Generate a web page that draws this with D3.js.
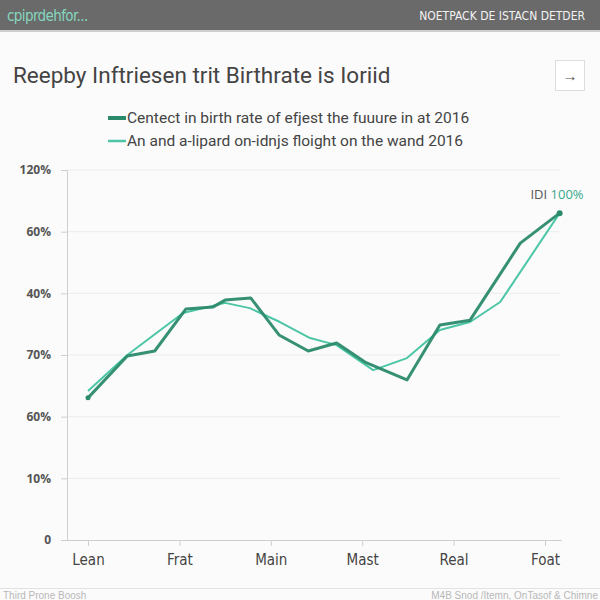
<!DOCTYPE html>
<html><head><meta charset="utf-8">
<script src="https://cdn.jsdelivr.net/npm/d3@7"></script>
<style>
html,body{margin:0;padding:0;background:#fbfbfb;}
svg{display:block;font-family:"Liberation Sans","Open Sans",Arial,sans-serif;}
</style></head>
<body>
<svg id="c" width="600" height="600"></svg>
<script>
// Categories (x axis) and tick labels
const categories = ["Lean","Frat","Main","Mast","Real","Foat"];
const yTickValues = [0,20,40,60,80,100,120];
const yTickLabels = ["0","10%","60%","70%","40%","60%","120%"];

// Series: x is fractional category position, y in axis units
const darkX = [0,0.43,0.73,1.07,1.37,1.50,1.78,2.09,2.41,2.72,3.03,3.49,3.85,4.18,4.73,5.16];
const darkY = [46.1,59.7,61.3,74.9,75.6,77.8,78.5,66.5,61.3,63.9,57.7,51.9,69.7,71.3,96.3,106.0];
const lightX = [0,0.43,1.04,1.50,1.77,2.10,2.43,2.72,3.12,3.49,3.85,4.18,4.51,5.16];
const lightY = [48.3,60.0,73.6,76.9,75.2,70.7,65.5,63.2,55.1,59.0,68.1,70.7,77.2,106.0];

const seriesNames = ["Centect in birth rate of efjest the fuuure in at 2016","An and a-lipard on-idnjs floight on the wand 2016"];
const colors = ["#2b8a6c","#4cc6a6"];

const svg = d3.select("#c");

// header bar
svg.append("rect").attr("x",0).attr("y",0).attr("width",600).attr("height",30).attr("fill","#6a6a6a");
svg.append("rect").attr("x",0).attr("y",30).attr("width",600).attr("height",2).attr("fill","#cfcfcf");
svg.append("text").attr("x",7).attr("y",21).attr("fill","#86d6be").attr("font-size",15).attr("letter-spacing",-0.6)
  .attr("font-family","'DejaVu Sans Condensed','Liberation Sans Narrow',sans-serif").text("cpiprdehfor...");
svg.append("text").attr("x",585).attr("y",20).attr("text-anchor","end").attr("fill","#f2f2f2").attr("font-size",12)
  .attr("font-family","'DejaVu Sans Condensed','Liberation Sans Narrow',sans-serif").text("NOETPACK DE ISTACN DETDER");

// title
svg.append("text").attr("x",13).attr("y",83).attr("fill","#444").attr("font-size",22.5)
  .attr("font-family","Roboto,'Liberation Sans',sans-serif").text("Reepby Inftriesen trit Birthrate is Ioriid");
svg.append("rect").attr("x",555.5).attr("y",60.5).attr("width",29).attr("height",30).attr("fill","#fff").attr("stroke","#ddd");
svg.append("text").attr("x",570).attr("y",81).attr("text-anchor","middle").attr("fill","#555").attr("font-size",15).text("→");

// legend
seriesNames.forEach((n,i)=>{
  const y = 118 + i*23;
  svg.append("line").attr("x1",108).attr("x2",126).attr("y1",y).attr("y2",y)
    .attr("stroke",colors[i]).attr("stroke-width",i===0?4:2.5);
  svg.append("text").attr("x",127).attr("y",y+5).attr("fill","#444").attr("font-size",15.5)
    .attr("font-family","Roboto,'Liberation Sans',sans-serif").text(n);
});

// scales
const x = d3.scaleLinear().domain([0,5]).range([88,545]);
const y = d3.scaleLinear().domain([0,120]).range([540,170]);

// gridlines
svg.append("g").selectAll("line").data(yTickValues.slice(1)).join("line")
  .attr("x1",67).attr("x2",560).attr("y1",d=>y(d)).attr("y2",d=>y(d))
  .attr("stroke","#ececec").attr("stroke-width",1);

// y axis
const yAxis = d3.axisLeft(y).tickValues(yTickValues).tickFormat((d,i)=>yTickLabels[i]).tickSize(6).tickPadding(10);
const gy = svg.append("g").attr("transform","translate(67,0)").call(yAxis);
gy.select(".domain").attr("stroke","#cfcfcf");
gy.selectAll(".tick line").attr("stroke","#cfcfcf");
gy.selectAll("text").attr("fill","#555").attr("font-size",12).attr("font-weight","bold")
  .attr("font-family","'Open Sans','Liberation Sans',sans-serif");

// x axis
const xAxis = d3.axisBottom(x).tickValues(d3.range(categories.length)).tickFormat(i=>categories[i]).tickSize(6).tickPadding(8);
const gx = svg.append("g").attr("transform","translate(0,540)").call(xAxis);
gx.select(".domain").attr("d","M62,0.5H562").attr("stroke","#cfcfcf");
gx.selectAll(".tick line").attr("stroke","#cfcfcf");
gx.selectAll("text").attr("fill","#444").attr("font-size",15)
  .attr("font-family","'DejaVu Sans Condensed','Open Sans',sans-serif");

// lines
const line = d3.line().x(d=>x(d[0])).y(d=>y(d[1]));
const lightData = lightX.map((v,i)=>[v,lightY[i]]);
const darkData = darkX.map((v,i)=>[v,darkY[i]]);
svg.append("path").datum(lightData).attr("d",line).attr("fill","none")
  .attr("stroke",colors[1]).attr("stroke-width",2).attr("stroke-linejoin","round");
svg.append("path").datum(darkData).attr("d",line).attr("fill","none")
  .attr("stroke",colors[0]).attr("stroke-width",3).attr("stroke-linejoin","round").attr("opacity",0.95);

// end markers
svg.append("circle").attr("cx",x(darkX[0])).attr("cy",y(darkY[0])).attr("r",2.5).attr("fill",colors[0]);
const last = darkData[darkData.length-1];
svg.append("circle").attr("cx",x(last[0])).attr("cy",y(last[1])).attr("r",3).attr("fill",colors[0]);

// annotation
const ann = svg.append("text").attr("x",x(last[0])+24).attr("y",y(last[1])-14).attr("text-anchor","end")
  .attr("font-size",13).attr("font-family","'Open Sans','Liberation Sans',sans-serif");
ann.append("tspan").attr("fill","#555").text("IDI ");
ann.append("tspan").attr("fill","#3aa88b").text("100%");

// footer
svg.append("line").attr("x1",0).attr("x2",600).attr("y1",588.5).attr("y2",588.5).attr("stroke","#e2e2e2");
svg.append("text").attr("x",3).attr("y",599).attr("fill","#b8b8b8").attr("font-size",10).text("Third Prone Boosh");
svg.append("text").attr("x",598).attr("y",599).attr("text-anchor","end").attr("fill","#b8b8b8").attr("font-size",10).text("M4B Snod /Itemn, OnTasof & Chimne");
</script>
</body></html>
